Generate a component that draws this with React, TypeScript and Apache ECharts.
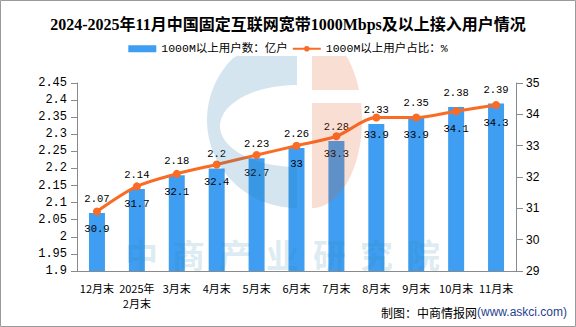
import React, { useEffect, useRef } from 'react';
import * as echarts from 'echarts';

const categories = ['12月末', '2025年\n2月末', '3月末', '4月末', '5月末', '6月末', '7月末', '8月末', '9月末', '10月末', '11月末'];
const userCounts = [2.07, 2.14, 2.18, 2.2, 2.23, 2.26, 2.28, 2.33, 2.35, 2.38, 2.39];
const userShares = [30.9, 31.7, 32.1, 32.4, 32.7, 33, 33.3, 33.9, 33.9, 34.1, 34.3];
const leftAxisRange = [1.9, 2.45, 0.05];
const rightAxisRange = [29, 35, 1];
const watermarkChars = ['中', '商', '产', '业', '研', '究', '院'];

const MONO = "'Liberation Mono', 'Noto Sans CJK SC', monospace";
const SANS = "'Liberation Sans', 'Noto Sans CJK SC', sans-serif";
const CJK = "'Noto Sans CJK SC', sans-serif";
const AXIS_GRAY = '#8a8a8a';
const BAR_COLOR = '#3f9ef1';
const LINE_COLOR = '#fa6b24';

function arc(cx: number, cy: number, rx: number, ry: number, a0: number, a1: number, n: number, clipTop: number) {
  const pts: number[][] = [];
  for (let i = 0; i <= n; i++) {
    const t = a0 + ((a1 - a0) * i) / n;
    pts.push([cx + rx * Math.cos(t), Math.max(cy + ry * Math.sin(t), clipTop)]);
  }
  return pts;
}

function buildWatermark() {
  const clip = 56;
  const blue = [
    ...arc(297, 120, 90, 88, -Math.PI / 2, -1.5 * Math.PI, 60, clip),
    ...arc(297, 126, 77, 41, Math.PI / 2, 1.5 * Math.PI, 60, clip),
  ];
  const t1 = Math.asin((90 - 120) / 88);
  const t2 = Math.asin((103 - 120) / 88);
  const peachTop = [...arc(312, 120, 50, 88, -Math.PI / 2, t1, 30, clip), [312, 90]];
  const peachBottom = [...arc(312, 120, 50, 88, t2, Math.PI / 2, 40, clip), [312, 103]];
  const els: any[] = [
    { type: 'polygon', z: 100, silent: true, shape: { points: blue }, style: { fill: '#2a7fb0', opacity: 0.2 } },
    { type: 'polygon', z: 100, silent: true, shape: { points: peachTop }, style: { fill: '#e15a23', opacity: 0.2 } },
    { type: 'polygon', z: 100, silent: true, shape: { points: peachBottom }, style: { fill: '#e15a23', opacity: 0.2 } },
  ];
  watermarkChars.forEach((ch, i) => {
    els.push({
      type: 'text',
      z: 100,
      silent: true,
      x: 118 + 47 * (i + 0.5),
      y: 254,
      style: {
        text: ch,
        fontSize: 33,
        lineHeight: 33,
        fontWeight: 'bold',
        fontFamily: CJK,
        fill: '#2a7fb0',
        opacity: 0.18,
        align: 'center',
        verticalAlign: 'middle',
      },
    });
  });
  return els;
}

export default function App() {
  const ref = useRef<HTMLDivElement>(null);
  useEffect(() => {
    document.body.style.margin = '0';
    if (!ref.current) return;
    const chart = echarts.init(ref.current, undefined, { renderer: 'svg' });
    const option: any = {
      animation: false,
      backgroundColor: '#ffffff',
      title: {
        text: '2024-2025年11月中国固定互联网宽带1000Mbps及以上接入用户情况',
        left: 'center',
        top: 16,
        padding: 0,
        textStyle: { fontSize: 16, fontWeight: 'bold', color: '#000', fontFamily: "'Liberation Serif', 'Noto Sans CJK SC', serif" },
      },
      legend: {
        top: 43,
        left: 'center',
        padding: 0,
        itemWidth: 28,
        itemHeight: 7,
        itemGap: 4,
        textStyle: { fontSize: 11.5, color: '#000', fontFamily: MONO },
        data: [
          { name: '1000M以上用户数：亿户', icon: 'rect' },
          { name: '1000M以上用户占比：%' },
        ],
      },
      grid: { left: 77, right: 60, top: 83, bottom: 56 },
      xAxis: {
        type: 'category',
        data: categories,
        axisLine: { lineStyle: { color: AXIS_GRAY } },
        axisTick: { length: 5, lineStyle: { color: AXIS_GRAY } },
        axisLabel: { interval: 0, fontSize: 11, lineHeight: 15, margin: 9, color: '#000', fontFamily: CJK },
      },
      yAxis: [
        {
          type: 'value',
          min: leftAxisRange[0],
          max: leftAxisRange[1],
          interval: leftAxisRange[2],
          axisLine: { show: true, lineStyle: { color: AXIS_GRAY } },
          axisTick: { show: true, length: 6, lineStyle: { color: AXIS_GRAY } },
          splitLine: { show: false },
          axisLabel: { fontSize: 12, margin: 10, color: '#000', fontFamily: MONO },
        },
        {
          type: 'value',
          position: 'right',
          min: rightAxisRange[0],
          max: rightAxisRange[1],
          interval: rightAxisRange[2],
          axisLine: { show: true, lineStyle: { color: AXIS_GRAY } },
          axisTick: { show: true, length: 7, lineStyle: { color: AXIS_GRAY } },
          splitLine: { show: false },
          axisLabel: { fontSize: 12, margin: 10, color: '#000', fontFamily: SANS },
        },
      ],
      series: [
        {
          name: '1000M以上用户数：亿户',
          type: 'bar',
          yAxisIndex: 0,
          data: userCounts,
          barWidth: 16,
          itemStyle: { color: BAR_COLOR },
          label: { show: true, position: 'top', distance: 8, fontSize: 10.5, lineHeight: 12, color: '#000', fontFamily: MONO },
        },
        {
          name: '1000M以上用户占比：%',
          type: 'line',
          yAxisIndex: 1,
          data: userShares,
          smooth: 0.3,
          symbol: 'circle',
          symbolSize: 8,
          lineStyle: { width: 3, color: LINE_COLOR },
          itemStyle: { color: LINE_COLOR },
          label: { show: true, position: 'bottom', distance: 8, fontSize: 10.5, lineHeight: 12, color: '#000', fontFamily: MONO },
        },
      ],
      graphic: [
        ...buildWatermark(),
        {
          type: 'text',
          z: 110,
          x: 567,
          y: 312,
          style: {
            text: '{a|制图：中商情报网}{b|(www.askci.com)}',
            align: 'right',
            verticalAlign: 'middle',
            rich: {
              a: { fontSize: 12, fill: '#000', color: '#000', fontFamily: CJK },
              b: { fontSize: 12, fill: '#1f3f8f', color: '#1f3f8f', fontFamily: SANS },
            },
          },
        },
        {
          type: 'rect',
          z: 120,
          silent: true,
          shape: { x: 0.5, y: 0.5, width: 575, height: 326 },
          style: { fill: 'none', stroke: '#9a9a9a', lineWidth: 1 },
        },
      ],
    };
    chart.setOption(option);
    return () => chart.dispose();
  }, []);
  return <div ref={ref} style={{ width: 576, height: 327 }} />;
}
